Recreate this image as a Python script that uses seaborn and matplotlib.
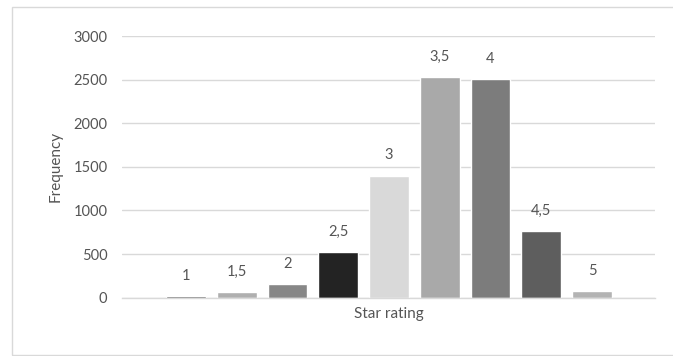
import matplotlib
matplotlib.use("Agg")
import matplotlib.pyplot as plt
import matplotlib.patches as mpatches
import seaborn as sns
import pandas as pd

# Star rating categories and how many items received each rating
ratings = ["1", "1,5", "2", "2,5", "3", "3,5", "4", "4,5", "5"]
frequency = [18, 60, 160, 520, 1400, 2530, 2505, 762, 70]
bar_colors = ["#595959", "#afafaf", "#878787", "#232323", "#d9d9d9",
              "#a9a9a9", "#7c7c7c", "#5e5e5e", "#b3b3b3"]

sns.set_theme(style="white")
plt.rcParams["font.family"] = ["Lato", "DejaVu Sans"]
text_color = "#555555"
grid_color = "#d9d9d9"

df = pd.DataFrame({"rating": ratings, "frequency": frequency})

fig = plt.figure(figsize=(6.73, 3.56), dpi=100)
ax = fig.add_axes([122 / 673, 1 - 297.6 / 356, 533 / 673, 261.6 / 356])

sns.barplot(data=df, x="rating", y="frequency", hue="rating",
            palette=bar_colors, order=ratings, hue_order=ratings,
            width=0.78, legend=False, ax=ax, saturation=1)

ax.set_xlim(-1.26, len(ratings) - 1 + 1.24)
ax.set_ylim(0, 3000)
ax.set_yticks([0, 500, 1000, 1500, 2000, 2500, 3000])
ax.set_xticks([])

ax.yaxis.grid(True, color=grid_color, linewidth=1)
ax.set_axisbelow(True)
for side in ["top", "right", "left"]:
    ax.spines[side].set_visible(False)
ax.spines["bottom"].set_color(grid_color)
ax.spines["bottom"].set_linewidth(1)

ax.tick_params(axis="y", length=0, pad=10.5, labelsize=10.5, labelcolor=text_color)

# Rating label above each bar
for i, (lab, val) in enumerate(zip(ratings, frequency)):
    ax.annotate(lab, xy=(i, val), xytext=(0, 14.5), textcoords="offset points",
                ha="center", va="center", fontsize=10.5, color=text_color)

ax.set_xlabel("Star rating", fontsize=11, color=text_color)
ax.set_ylabel("Frequency", fontsize=11, color=text_color)
ax.xaxis.set_label_coords(0.5, -0.063)
ax.yaxis.set_label_coords(-0.124, 0.5)
ax.xaxis.label.set_va("center")
ax.yaxis.label.set_va("center")

# Chart frame
frame = mpatches.Rectangle((12 / 673, 1 / 356), 1.2, 348 / 356,
                           transform=fig.transFigure, fill=False,
                           edgecolor=grid_color, linewidth=1, clip_on=False)
fig.patches.append(frame)

fig.savefig("out.png", dpi=100, facecolor="white")
